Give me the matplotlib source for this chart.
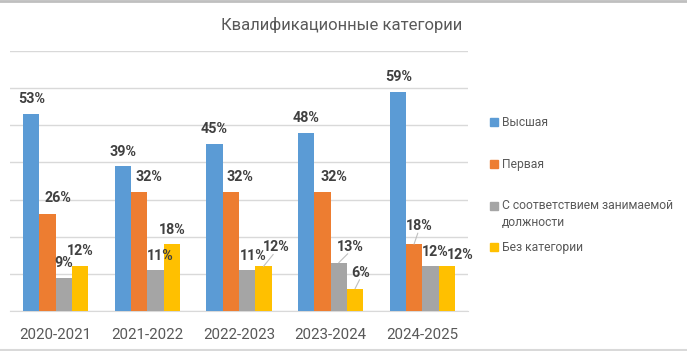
import matplotlib
matplotlib.use("Agg")
import matplotlib.pyplot as plt
from matplotlib.patches import Rectangle
from matplotlib.lines import Line2D
import numpy as np

plt.rcParams['font.family'] = ['Roboto', 'DejaVu Sans']

categories = ["2020-2021", "2021-2022", "2022-2023", "2023-2024", "2024-2025"]
series_names = ["Высшая", "Первая", "С соответствием занимаемой\nдолжности", "Без категории"]
vysshaya = [0.53, 0.39, 0.45, 0.48, 0.59]
pervaya = [0.26, 0.32, 0.32, 0.32, 0.18]
sootv = [0.09, 0.11, 0.11, 0.13, 0.12]
bez_kat = [0.12, 0.18, 0.12, 0.06, 0.12]
series = [vysshaya, pervaya, sootv, bez_kat]
title = "Квалификационные категории"

colors = ["#5B9BD5", "#ED7D31", "#A5A5A5", "#FFC000"]
text_col = "#595959"
label_col = "#404040"

# label offsets in pixels (dx, dy) relative to bar top centre, per series/category
offsets = [
    [(0, 15), (0, 14), (0, 15), (0, 15), (1, 15)],
    [(10, 16), (10, 15), (9, 15), (11, 15), (5, 18)],
    [(0, 15), (5, 14), (6, 14), (12, 16), (5, 14)],
    [(0, 15), (0, 14), (13, 19), (6, 16), (14, 11)],
]
leaders = {(3, 2), (2, 3), (3, 3), (1, 4)}

W, H = 687, 351
fig = plt.figure(figsize=(W / 100, H / 100), dpi=100)
ax = fig.add_axes([10 / W, 1 - 311 / H, 458 / W, 260 / H])

x = np.arange(len(categories))
bw = 0.178
for i, vals in enumerate(series):
    pos = x + (i - 1.5) * bw
    ax.bar(pos, vals, width=bw, color=colors[i], zorder=3)
    for j, v in enumerate(vals):
        dx, dy = offsets[i][j]
        ax.annotate(f"{round(v * 100)}%", (pos[j], v), xytext=(dx, dy),
                    textcoords="offset pixels", ha="center", va="center",
                    fontsize=10.3, fontweight="bold", color=label_col, zorder=5)
        if (i, j) in leaders:
            ax.annotate("", (pos[j], v), xytext=(dx * 0.75, dy - 7),
                        textcoords="offset pixels",
                        arrowprops=dict(arrowstyle="-", color="#BFBFBF", lw=0.8,
                                        shrinkA=0, shrinkB=0), zorder=4)

ax.set_xlim(-0.5, len(categories) - 0.5)
ax.set_ylim(0, 0.7)
ax.set_yticks(np.arange(0, 0.71, 0.1))
ax.yaxis.grid(True, color="#D9D9D9", lw=1, zorder=0)
ax.set_yticklabels([])
ax.tick_params(axis="y", length=0)
ax.tick_params(axis="x", length=0, pad=12, labelsize=10.9, labelcolor=text_col)
ax.set_xticks(x)
ax.set_xticklabels(categories)
for s in ["top", "right", "left"]:
    ax.spines[s].set_visible(False)
ax.spines["bottom"].set_color("#D9D9D9")
ax.spines["bottom"].set_zorder(2)

fig.text(342 / W, 1 - 25 / H, title, ha="center", va="center",
         fontsize=12, color=text_col)

# legend
leg_y = [122, 164, 206, 247]
for i, name in enumerate(series_names):
    y = leg_y[i]
    fig.patches.append(Rectangle((490 / W, 1 - (y + 4) / H), 8 / W, 8 / H,
                                 transform=fig.transFigure, color=colors[i]))
    for k, line in enumerate(name.split("\n")):
        fig.text(502 / W, 1 - (y + 17 * k) / H, line, ha="left", va="center",
                 fontsize=8.7, color=text_col)

# spreadsheet edge lines
fig.lines.append(Line2D([0, 1], [1 - 1 / H, 1 - 1 / H], transform=fig.transFigure,
                        color="#BFBFBF", lw=2))
fig.lines.append(Line2D([0, 1], [1 / H, 1 / H], transform=fig.transFigure,
                        color="#D9D9D9", lw=1.5))

fig.savefig("out.png", dpi=100)
